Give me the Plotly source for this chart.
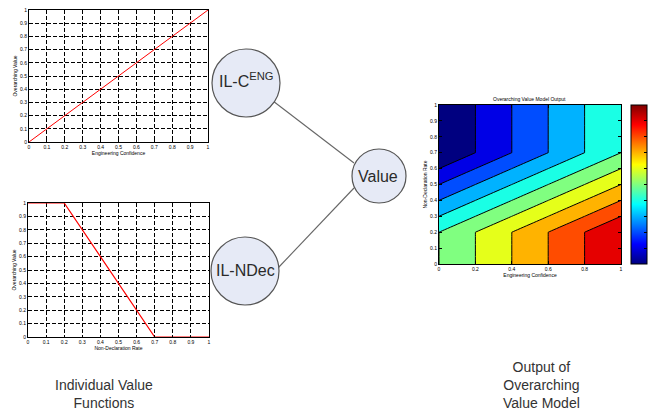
import plotly.graph_objects as go

W, H = 648, 414

# ---------------- data ----------------
eng_conf = [0.0, 1.0]
eng_value = [0.0, 1.0]

ndec_rate = [0.0, 0.2, 0.7, 1.0]
ndec_value = [1.0, 1.0, 0.0, 0.0]

grid_eng = [0.0, 0.2, 0.4, 0.6, 0.8, 1.0]
grid_ndec = [0.0, 0.2, 0.7, 1.0]
grid_value = [
    [0.5, 0.6, 0.7, 0.8, 0.9, 1.0],
    [0.5, 0.6, 0.7, 0.8, 0.9, 1.0],
    [0.0, 0.1, 0.2, 0.3, 0.4, 0.5],
    [0.0, 0.1, 0.2, 0.3, 0.4, 0.5],
]
tick_01 = [0, 0.1, 0.2, 0.3, 0.4, 0.5, 0.6, 0.7, 0.8, 0.9, 1]
tick_01_text = ["0", "0.1", "0.2", "0.3", "0.4", "0.5", "0.6", "0.7", "0.8", "0.9", "1"]
tick_02 = [0, 0.2, 0.4, 0.6, 0.8, 1]
tick_02_text = ["0", "0.2", "0.4", "0.6", "0.8", "1"]


# ---------------- helpers ----------------
def px(x):
    return x / W


def py(y):
    return 1 - y / H


def jet(t):
    def c(v):
        return max(0.0, min(1.0, v))
    r = c(1.5 - abs(4 * t - 3))
    g = c(1.5 - abs(4 * t - 2))
    b = c(1.5 - abs(4 * t - 1))
    return "rgb(%d,%d,%d)" % (round(r * 255), round(g * 255), round(b * 255))


jet_scale = [[i / 40, jet(i / 40)] for i in range(41)]
band_scale = [[k / 9, jet(k / 10)] for k in range(10)]

FONT = "Arial, Liberation Sans, sans-serif"
fig = go.Figure()

fig.add_trace(go.Scatter(x=eng_conf, y=eng_value, mode="lines",
                         line=dict(color="#ff0000", width=1), xaxis="x", yaxis="y",
                         showlegend=False))
fig.add_trace(go.Scatter(x=ndec_rate, y=ndec_value, mode="lines",
                         line=dict(color="#ff0000", width=1.2), xaxis="x2", yaxis="y2",
                         showlegend=False, cliponaxis=False))
fig.add_trace(go.Contour(x=grid_eng, y=grid_ndec, z=grid_value,
                         colorscale=band_scale, showscale=False,
                         contours=dict(start=0.1, end=0.9, size=0.1, coloring="fill"),
                         line=dict(color="black", width=1, smoothing=0),
                         xaxis="x3", yaxis="y3"))
# continuous colorbar
fig.add_trace(go.Scatter(x=[0.5], y=[0.5], mode="markers", xaxis="x3", yaxis="y3",
                         marker=dict(size=1, opacity=0, color=[0.5], cmin=0, cmax=1,
                                     colorscale=jet_scale, showscale=True,
                                     colorbar=dict(x=px(631), xanchor="left", xpad=0, ypad=0,
                                                   y=py(184.5), yanchor="middle",
                                                   len=159 / H, lenmode="fraction",
                                                   thickness=16, thicknessmode="pixels",
                                                   outlinecolor="black", outlinewidth=1,
                                                   ticks="inside", ticklen=3, tickcolor="black",
                                                   dtick=0.1, showticklabels=False)),
                         showlegend=False, hoverinfo="skip"))

small = dict(family=FONT, size=5, color="black")


def line_axis(domain, title, anchor):
    return dict(domain=domain, range=[0, 1], tickvals=tick_01, ticktext=tick_01_text,
                showgrid=True, gridcolor="black", griddash="4px,2px", gridwidth=1,
                zeroline=False, showline=True, linecolor="black", linewidth=1, mirror=True,
                ticks="inside", ticklen=2, tickcolor="black", tickfont=small, automargin=False,
                title=dict(text=title, font=small, standoff=2), anchor=anchor)


layout = dict(
    width=W, height=H, margin=dict(l=0, r=0, t=0, b=0, pad=0, autoexpand=False),
    paper_bgcolor="white", plot_bgcolor="white", showlegend=False,
    xaxis=line_axis([px(29), px(208)], "Engineering Confidence", "y"),
    yaxis=line_axis([py(142), py(10)], "Overarching Value", "x"),
    xaxis2=line_axis([px(28), px(209)], "Non-Declaration Rate", "y2"),
    yaxis2=line_axis([py(337), py(203)], "Overarching Value", "x2"),
    xaxis3=dict(domain=[px(439), px(621)], range=[0, 1], tickvals=tick_02, ticktext=tick_02_text,
                showgrid=False, zeroline=False, showline=True, linecolor="black", linewidth=1,
                mirror="ticks", ticks="inside", ticklen=3, tickcolor="black", tickfont=small,
                automargin=False,
                title=dict(text="Engineering Confidence", font=small, standoff=2), anchor="y3"),
    yaxis3=dict(domain=[py(264), py(105)], range=[0, 1], tickvals=tick_01, ticktext=tick_01_text,
                showgrid=False, zeroline=False, showline=True, linecolor="black", linewidth=1,
                mirror="ticks", ticks="inside", ticklen=3, tickcolor="black", tickfont=small,
                automargin=False,
                title=dict(text="Non-Declaration Rate", font=small, standoff=2), anchor="x3"),
)
fig.update_layout(**layout)

# ---- diagram: circles and connectors ----
shapes = []
ann = []


def circle(cx, cy, r):
    shapes.append(dict(type="circle", xref="paper", yref="paper",
                       x0=px(cx - r), x1=px(cx + r), y0=py(cy + r), y1=py(cy - r),
                       fillcolor="#e6eaf6", line=dict(color="#555555", width=1.2), layer="above"))


def seg(x0, y0, x1, y1):
    shapes.append(dict(type="line", xref="paper", yref="paper",
                       x0=px(x0), y0=py(y0), x1=px(x1), y1=py(y1),
                       line=dict(color="#666666", width=1.1)))


seg(273, 101, 354, 163)
seg(278, 268, 354, 188)
circle(246, 83, 34)
circle(245, 271, 34)
circle(379, 176, 27)


def text(x, y, s, size, color="#2a2a2a"):
    ann.append(dict(x=px(x), y=py(y), xref="paper", yref="paper", text=s, showarrow=False,
                    xanchor="center", yanchor="middle", align="center",
                    font=dict(family=FONT, size=size, color=color)))


text(246, 80, "IL-C<sup>ENG</sup>", 16)
text(245, 270, "IL-NDec", 16)
text(378, 176, "Value", 16)

text(104, 394, "Individual Value<br>Functions", 14, "#333333")
text(541, 385, "Output of<br>Overarching<br>Value Model", 14, "#333333")
ann.append(dict(x=px(529), y=py(99), xref="paper", yref="paper", showarrow=False,
                xanchor="center", yanchor="middle",
                text="Overarching Value Model Output", font=small))

fig.update_layout(shapes=shapes, annotations=ann)
fig.write_html("out.html", config={"displayModeBar": False},
               post_script="document.body.style.margin='0';document.body.style.overflow='hidden';")
